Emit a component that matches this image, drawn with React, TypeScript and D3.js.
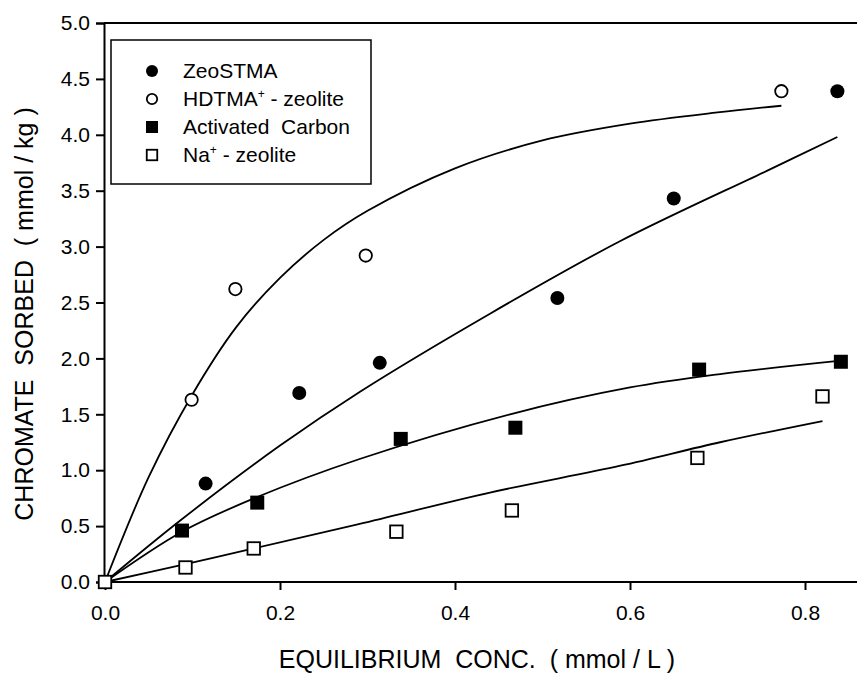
import React, { useEffect, useRef } from "react";
import * as d3 from "d3";

// measured points
const zeoX = [0, 0.115, 0.222, 0.314, 0.517, 0.65, 0.837];
const zeoY = [0, 0.88, 1.69, 1.96, 2.54, 3.43, 4.39];
const hdtmaX = [0, 0.099, 0.149, 0.298, 0.773];
const hdtmaY = [0, 1.63, 2.62, 2.92, 4.39];
const carbonX = [0, 0.088, 0.174, 0.338, 0.469, 0.679, 0.841];
const carbonY = [0, 0.46, 0.71, 1.28, 1.38, 1.9, 1.97];
const naX = [0, 0.092, 0.17, 0.333, 0.465, 0.677, 0.82];
const naY = [0, 0.13, 0.3, 0.45, 0.64, 1.11, 1.66];

// fitted curves
const hdtmaFitX = [0, 0.05, 0.1, 0.15, 0.2, 0.25, 0.3, 0.4, 0.5, 0.6, 0.7, 0.773];
const hdtmaFitY = [0, 0.94, 1.68, 2.28, 2.72, 3.06, 3.32, 3.7, 3.95, 4.1, 4.2, 4.26];
const zeoFitX = [0, 0.086, 0.2, 0.291, 0.44, 0.589, 0.757, 0.837];
const zeoFitY = [0, 0.55, 1.22, 1.7, 2.4, 3.05, 3.68, 3.98];
const carbonFitX = [0, 0.088, 0.174, 0.291, 0.463, 0.6, 0.703, 0.841];
const carbonFitY = [0, 0.45, 0.76, 1.1, 1.5, 1.74, 1.86, 1.98];
const naFitX = [0, 0.092, 0.17, 0.291, 0.44, 0.589, 0.703, 0.82];
const naFitY = [0, 0.16, 0.3, 0.52, 0.8, 1.04, 1.25, 1.44];

const xTicks = [0, 0.2, 0.4, 0.6, 0.8];
const yTicks = [0, 0.5, 1, 1.5, 2, 2.5, 3, 3.5, 4, 4.5, 5];

const legendNames = ["ZeoSTMA", "HDTMA", "Activated  Carbon", "Na"];

const FONT = "'Liberation Sans', Arial, sans-serif";

const zip = (xs: number[], ys: number[]) => xs.map((x, i) => [x, ys[i]] as [number, number]);

export default function App() {
  const svgRef = useRef<SVGSVGElement>(null);

  useEffect(() => {
    const svg = d3.select(svgRef.current);
    svg.selectAll("*").remove();

    const x = d3.scaleLinear().domain([0, 0.8]).range([105, 805]);
    const y = d3.scaleLinear().domain([0, 5]).range([582, 23]);
    const xEnd = 857;

    const g = svg.append("g").attr("font-family", FONT);

    // frame: top and bottom lines, left axis
    g.append("line").attr("x1", x(0) - 1).attr("x2", xEnd).attr("y1", y(5)).attr("y2", y(5))
      .attr("stroke", "#000").attr("stroke-width", 2);

    const xAxis = g.append("g").attr("transform", `translate(0,${y(0)})`)
      .call(d3.axisBottom(x).tickValues(xTicks).tickSize(8).tickPadding(15).tickFormat(d3.format(".1f")));
    xAxis.select(".domain").remove();
    xAxis.append("line").attr("x1", x(0) - 1).attr("x2", xEnd).attr("stroke", "#000").attr("stroke-width", 2);
    xAxis.selectAll("line").attr("stroke-width", 2);
    xAxis.selectAll("text").attr("font-size", 21).attr("font-family", FONT).attr("fill", "#000");

    const yAxis = g.append("g").attr("transform", `translate(${x(0) - 1},0)`)
      .call(d3.axisLeft(y).tickValues(yTicks).tickSize(8).tickPadding(6).tickFormat(d3.format(".1f")));
    yAxis.select(".domain").attr("stroke-width", 2);
    yAxis.selectAll("line").attr("stroke-width", 2);
    yAxis.selectAll("text").attr("font-size", 21).attr("font-family", FONT).attr("fill", "#000");

    // axis titles
    g.append("text").attr("x", 477).attr("y", 668).attr("text-anchor", "middle")
      .attr("font-size", 25).attr("xml:space", "preserve")
      .text("EQUILIBRIUM  CONC.  ( mmol / L )");
    g.append("text").attr("transform", "translate(33,314) rotate(-90)").attr("text-anchor", "middle")
      .attr("font-size", 25).attr("xml:space", "preserve")
      .text("CHROMATE  SORBED  ( mmol / kg )");

    // fitted curves
    const line = d3.line<[number, number]>()
      .x((d) => x(d[0]))
      .y((d) => y(d[1]))
      .curve(d3.curveCatmullRom);

    [
      zip(hdtmaFitX, hdtmaFitY),
      zip(zeoFitX, zeoFitY),
      zip(carbonFitX, carbonFitY),
      zip(naFitX, naFitY),
    ].forEach((pts) => {
      g.append("path").datum(pts).attr("fill", "none").attr("stroke", "#000")
        .attr("stroke-width", 1.8).attr("d", line);
    });

    // markers
    const drawMarker = (sel: any, kind: number, cx: number, cy: number, s: number) => {
      if (kind === 0 || kind === 1) {
        sel.append("circle").attr("cx", cx).attr("cy", cy).attr("r", kind === 0 ? s / 2 : s / 2 - 0.8)
          .attr("fill", kind === 0 ? "#000" : "#fff").attr("stroke", "#000")
          .attr("stroke-width", kind === 0 ? 0 : 1.8);
      } else {
        const w = kind === 2 ? s : s - 1.5;
        sel.append("rect").attr("x", cx - w / 2).attr("y", cy - w / 2).attr("width", w).attr("height", w)
          .attr("fill", kind === 2 ? "#000" : "#fff").attr("stroke", "#000")
          .attr("stroke-width", kind === 2 ? 0 : 1.8);
      }
    };

    const series = [
      { kind: 2, pts: zip(carbonX, carbonY) },
      { kind: 0, pts: zip(zeoX, zeoY) },
      { kind: 1, pts: zip(hdtmaX, hdtmaY) },
      { kind: 3, pts: zip(naX, naY) },
    ];
    series.forEach((s) => {
      s.pts.forEach((p) => drawMarker(g, s.kind, x(p[0]), y(p[1]), 14));
    });

    // legend
    const lg = g.append("g");
    lg.append("rect").attr("x", 111).attr("y", 40).attr("width", 260).attr("height", 144)
      .attr("fill", "#fff").attr("stroke", "#000").attr("stroke-width", 1.5);
    const rows = [71, 99, 127, 155];
    legendNames.forEach((name, i) => {
      drawMarker(lg, i, 152, rows[i], 12);
      const t = lg.append("text").attr("x", 183).attr("y", rows[i] + 7).attr("font-size", 21)
        .attr("xml:space", "preserve");
      if (i === 1 || i === 3) {
        t.append("tspan").text(name);
        t.append("tspan").attr("dy", -8).attr("font-size", 12).text("+");
        t.append("tspan").attr("dy", 8).text(" - zeolite");
      } else {
        t.text(name);
      }
    });
  }, []);

  return (
    <svg
      ref={svgRef}
      width={857}
      height={673}
      style={{ position: "absolute", left: 0, top: 0, background: "#fff" }}
    />
  );
}
